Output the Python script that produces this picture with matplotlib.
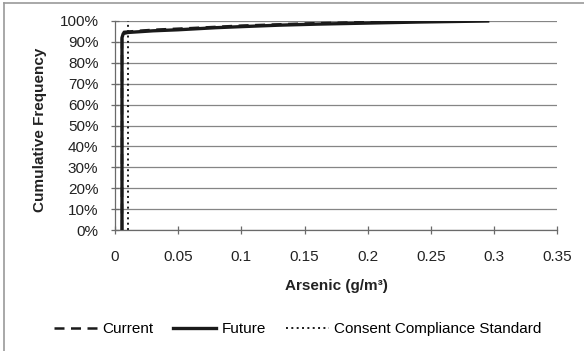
import matplotlib
matplotlib.use("Agg")
import matplotlib.pyplot as plt
from matplotlib.lines import Line2D
from matplotlib.ticker import PercentFormatter

plt.rcParams['font.family'] = ['Liberation Sans', 'DejaVu Sans']

# Data (cumulative frequency in %)
future_x = [0.0055, 0.0055, 0.0065, 0.01, 0.03, 0.05, 0.08, 0.10, 0.13, 0.16, 0.20, 0.24, 0.295]
future_y = [0, 92, 94, 94.5, 95.3, 95.8, 96.8, 97.3, 98.0, 98.5, 99.0, 99.5, 100]
current_x = [0.0055, 0.0055, 0.007, 0.03, 0.06, 0.10, 0.15, 0.20, 0.24]
current_y = [0, 93, 94.8, 95.8, 96.6, 97.8, 98.8, 99.5, 100]
standard_x = [0.01, 0.01]
standard_y = [0, 100]

xticks = [0, 0.05, 0.1, 0.15, 0.2, 0.25, 0.3, 0.35]
xticklabels = ['0', '0.05', '0.1', '0.15', '0.2', '0.25', '0.3', '0.35']
yticks = list(range(0, 101, 10))

fig = plt.figure(figsize=(5.84, 3.51), dpi=100)
ax = fig.add_axes([0.197, 0.3447, 0.757, 0.5955])

c = '#1a1a1a'
l1, = ax.plot(current_x, current_y, color=c, lw=1.8, ls=(0, (4, 2.6)), label='Current', zorder=3)
l2, = ax.plot(future_x, future_y, color=c, lw=2.4, ls='-', label='Future', zorder=4)
l3, = ax.plot(standard_x, standard_y, color=c, lw=1.4, ls=(0, (1, 1.75)), label='Consent Compliance Standard', zorder=2)

ax.set_xlim(0, 0.35)
ax.set_ylim(0, 100)
ax.set_xticks(xticks)
ax.set_xticklabels(xticklabels)
ax.set_yticks(yticks)
ax.yaxis.set_major_formatter(PercentFormatter(decimals=0))
ax.grid(axis='y', color='#858585', lw=0.9)
ax.set_axisbelow(True)
for s in ['top', 'right']:
    ax.spines[s].set_visible(False)
for s in ['left', 'bottom']:
    ax.spines[s].set_color('#6a6a6a')
    ax.spines[s].set_linewidth(0.9)
ax.tick_params(axis='both', direction='inout', length=6, width=0.9, color='#6a6a6a',
               labelsize=11, labelcolor='#222222')
ax.tick_params(axis='x', pad=11.5)
ax.tick_params(axis='y', pad=9)

ax.set_xlabel('Arsenic (g/m³)', fontsize=11, fontweight='bold', color='#222222', labelpad=11)
ax.set_ylabel('Cumulative Frequency', fontsize=11, fontweight='bold', color='#222222')
ax.yaxis.set_label_coords(-0.153, 0.48)

fig.legend(handles=[l1, l2, l3], loc='center', bbox_to_anchor=(0.51, 0.0627), ncol=3,
           frameon=False, fontsize=11, handlelength=2.8, columnspacing=1.3, handletextpad=0.35,
           borderaxespad=0, borderpad=0)

fig.add_artist(Line2D([0.006, 1.0], [0.991, 0.991], transform=fig.transFigure, color='#999999', lw=1.2))
fig.add_artist(Line2D([0.006, 0.006], [0.0, 0.991], transform=fig.transFigure, color='#999999', lw=1.2))

fig.savefig('out.png', dpi=100, facecolor='white')
